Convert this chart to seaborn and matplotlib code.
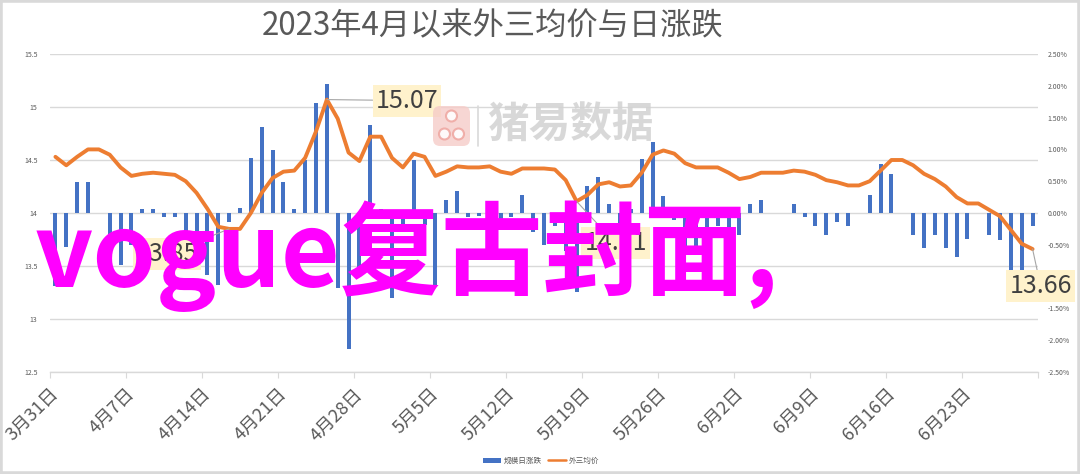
import numpy as np
import pandas as pd
import matplotlib
matplotlib.use("Agg")
import matplotlib.pyplot as plt
import matplotlib.transforms as mtransforms
import seaborn as sns
from matplotlib.patches import FancyBboxPatch, Circle, Rectangle, Patch
from matplotlib.lines import Line2D

# ---------------- data ----------------
start_date = "2023-03-31"
tick_step_days = 7

# 外三均价 (元/kg), one value per day from 3/31
price = [14.53, 14.45, 14.53, 14.60, 14.60, 14.55, 14.43, 14.35, 14.37, 14.38,
         14.37, 14.36, 14.30, 14.19, 14.04, 13.87, 13.85, 13.85, 14.00, 14.19,
         14.33, 14.39, 14.40, 14.52, 14.77, 15.07, 14.89, 14.57, 14.49, 14.72,
         14.72, 14.52, 14.43, 14.56, 14.53, 14.35, 14.39, 14.44, 14.43, 14.43,
         14.44, 14.39, 14.37, 14.42, 14.42, 14.42, 14.41, 14.31, 14.11, 14.17,
         14.27, 14.29, 14.25, 14.26, 14.38, 14.55, 14.59, 14.56, 14.47, 14.43,
         14.43, 14.43, 14.38, 14.32, 14.34, 14.38, 14.38, 14.38, 14.40, 14.39,
         14.36, 14.31, 14.29, 14.26, 14.26, 14.30, 14.40, 14.50, 14.50, 14.45,
         14.37, 14.32, 14.25, 14.15, 14.09, 14.09, 14.03, 13.97, 13.84, 13.71,
         13.66]

# 规模日涨跌 (%), NaN = no bar that day
change_pct = [-1.15, -0.54, 0.48, 0.48, np.nan, -0.60, -0.82, -0.50, 0.07, 0.07,
              -0.06, -0.06, -0.50, -0.60, -0.98, -1.13, -0.14, 0.08, 0.87, 1.36,
              0.99, 0.49, 0.07, 0.83, 1.73, 2.03, -1.18, -2.14, -0.90, 1.39,
              0.06, -1.34, -0.30, 0.83, -0.19, -1.16, 0.20, 0.35, -0.06, -0.05,
              -0.10, -0.27, -0.06, 0.28, -0.30, -0.50, -0.20, -0.60, -1.24, 0.42,
              0.56, 0.14, -0.20, 0.07, 0.85, 1.11, 0.27, -0.11, -0.53, -0.53,
              -0.30, -0.20, -0.35, -0.35, 0.14, 0.21, np.nan, np.nan, 0.14, -0.06,
              -0.20, -0.34, -0.14, -0.20, np.nan, 0.28, 0.77, 0.62, np.nan, -0.35,
              -0.55, -0.35, -0.55, -0.69, -0.41, np.nan, -0.35, -0.42, -0.90, -0.90,
              -0.21]

left_ticks = [12.5, 13, 13.5, 14, 14.5, 15, 15.5]
right_ticks = [-2.5, -2.0, -1.5, -1.0, -0.5, 0.0, 0.5, 1.0, 1.5, 2.0, 2.5]

title = "2023年4月以来外三均价与日涨跌"
bar_label = "规模日涨跌"
line_label = "外三均价"
overlay_text = "vogue复古封面,"
watermark_text = "猪易数据"

BAR_C = "#4472C4"
LINE_C = "#ED7D31"
GRID_C = "#D9D9D9"
TXT_C = "#595959"

# ---------------- style ----------------
sns.set_theme(style="white")
plt.rcParams['font.family'] = ['Noto Sans CJK SC', 'DejaVu Sans']

dates = pd.date_range(start_date, periods=len(price), freq="D")
day = (dates - dates[0]).days.to_numpy().astype(float) + 0.5
df = pd.DataFrame({"day": day, "price": price, "pct": change_pct})
df_bars = df.dropna(subset=["pct"])

W, H = 1080, 474
fig = plt.figure(figsize=(W / 100, H / 100), dpi=100)
fig.patch.set_facecolor("white")

ax = fig.add_axes([50 / W, 1 - 372 / H, 988 / W, 318 / H])
axb = ax.twinx()
axl = ax.twinx()

# bars (right axis)
sns.barplot(data=df_bars, x="day", y="pct", native_scale=True, orient="x",
            color=BAR_C, saturation=1, width=0.38, errorbar=None, ax=axb,
            linewidth=0)
# line (left axis scale)
sns.lineplot(data=df, x="day", y="price", ax=axl, color=LINE_C, linewidth=2.8,
             sort=False, solid_joinstyle="round", solid_capstyle="round")

n = len(price)
for a in (ax, axb, axl):
    a.set_xlim(0, n)
    a.set_xlabel("")
    a.set_ylabel("")
    for s in a.spines.values():
        s.set_visible(False)
    a.grid(False)

ax.set_ylim(left_ticks[0], left_ticks[-1])
axl.set_ylim(left_ticks[0], left_ticks[-1])
axb.set_ylim(right_ticks[0], right_ticks[-1])

ax.set_yticks(left_ticks)
ax.set_yticklabels([f"{v:g}" for v in left_ticks])
ax.yaxis.grid(True, color=GRID_C, linewidth=1.0)
ax.tick_params(axis="y", length=0, labelsize=5, labelcolor=TXT_C, pad=9)
ax.spines["bottom"].set_visible(True)
ax.spines["bottom"].set_color(GRID_C)
ax.spines["bottom"].set_linewidth(1.0)

axb.set_yticks(right_ticks)
axb.set_yticklabels([f"{v:.2f}%" for v in right_ticks])
axb.tick_params(axis="y", length=0, labelsize=5, labelcolor=TXT_C, pad=7)
axb.patch.set_visible(False)

axl.yaxis.set_visible(False)
axl.patch.set_visible(False)

tick_idx = np.arange(0, n, tick_step_days)
ax.set_xticks(tick_idx)
ax.set_xticklabels([f"{dates[i].month}月{dates[i].day}日" for i in tick_idx],
                   rotation=45, ha="right", va="center", rotation_mode="anchor")
ax.set_xticks([n], minor=True)
ax.tick_params(axis="x", which="both", direction="out", length=4, width=0.8,
               color=GRID_C, labelsize=13, labelcolor=TXT_C, pad=5, bottom=True)
shift = mtransforms.ScaledTranslation(0.06, -0.07, fig.dpi_scale_trans)
for lab in ax.get_xticklabels():
    lab.set_transform(lab.get_transform() + shift)
for a in (axb, axl):
    a.tick_params(axis="x", which="both", bottom=False, labelbottom=False)

# data labels
p = np.array(price)
idx_peak = int(np.argmax(p))
idx_low1 = int(np.argmin(p[:30]))
idx_low2 = 40 + int(np.argmin(p[40:60]))
idx_last = n - 1
label_offsets = {idx_peak: (80, -1), idx_low1: (-62, -25),
                 idx_low2: (39, -42), idx_last: (8, -37)}
for i, (dx, dy) in label_offsets.items():
    axl.annotate(f"{price[i]:.2f}", xy=(day[i], price[i]), xytext=(dx, dy),
                 textcoords="offset pixels", ha="center", va="center",
                 fontsize=18, color="#404040",
                 bbox=dict(boxstyle="square,pad=0.12", fc="#FFF2CC", ec="none"),
                 arrowprops=dict(arrowstyle="-", color="#A6A6A6", lw=0.8,
                                 shrinkA=0, shrinkB=0))

# legend
handles = [Patch(facecolor=BAR_C, edgecolor="none"),
           Line2D([], [], color=LINE_C, linewidth=1.8)]
leg = fig.legend(handles, [bar_label, line_label], loc="center",
                 bbox_to_anchor=(541 / W, 1 - 461 / H), ncol=2, frameon=False,
                 fontsize=5.5, handlelength=2.4, handleheight=0.6,
                 handletextpad=0.3, columnspacing=0.8)
for t in leg.get_texts():
    t.set_color(TXT_C)

# title
fig.text(493 / W, 1 - 26 / H, title, ha="center", va="center", fontsize=22.5,
         color=TXT_C)

# watermark
fig.text(487 / W, 1 - 126 / H, watermark_text, ha="left", va="center",
         fontsize=30, fontweight="bold", color="#D2D2D2", alpha=0.85, zorder=5)
logo = FancyBboxPatch((4.33, (H - 146) / 100), 0.37, 0.40,
                      boxstyle="round,pad=0,rounding_size=0.07",
                      fc="#F6CCC8", ec="none", alpha=0.8,
                      transform=fig.dpi_scale_trans, zorder=5)
fig.add_artist(logo)
for cx, cy in [(4.515, (H - 116) / 100), (4.445, (H - 134) / 100),
               (4.585, (H - 134) / 100)]:
    fig.add_artist(Circle((cx, cy), 0.055, fc="white", ec="#EFA9A3", lw=1.5,
                          alpha=0.9, transform=fig.dpi_scale_trans, zorder=6))
fig.add_artist(Line2D([4.78, 4.78], [(H - 146) / 100, (H - 106) / 100],
                      color="#D9D9D9", lw=1.2, transform=fig.dpi_scale_trans,
                      zorder=5))

# overlay text
fig.text(35 / W, 1 - 287 / H, overlay_text, ha="left", va="baseline",
         fontsize=73, fontweight="bold", color="#FF00FF", zorder=20)

# chart border
fig.add_artist(Rectangle((0, 0), 1, 1, transform=fig.transFigure, fill=False,
                         ec="#D9D9D9", lw=4, zorder=30))

fig.savefig("out.png", dpi=100)
